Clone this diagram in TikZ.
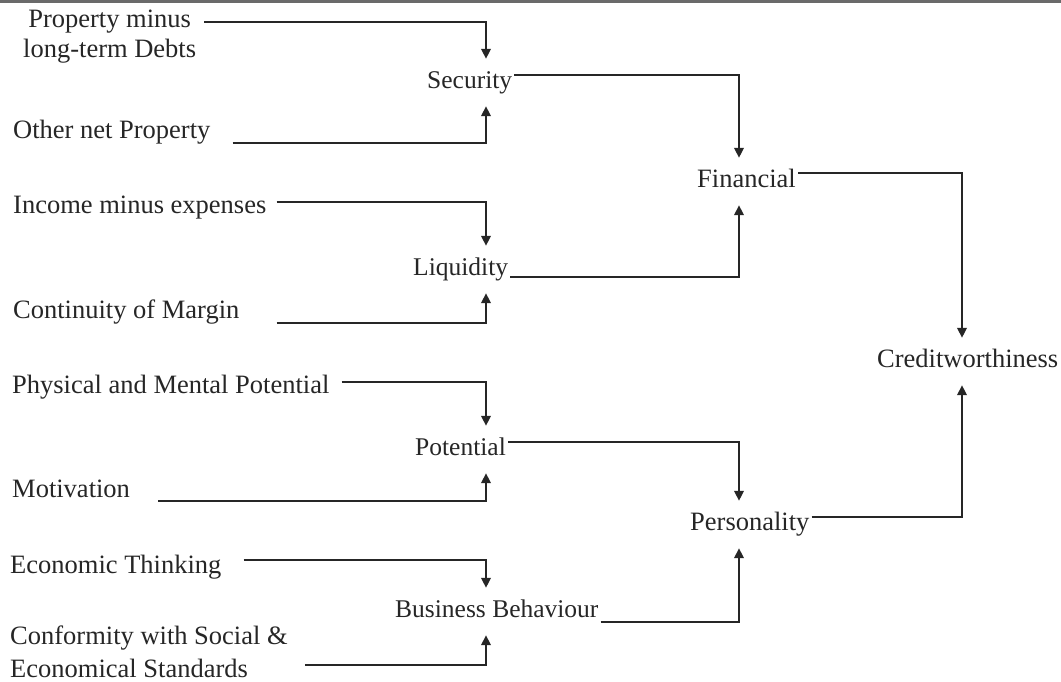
\documentclass[tikz,border=0pt]{standalone}
\usepackage{fontspec}
\setmainfont{Liberation Serif}
\usetikzlibrary{arrows.meta}
\definecolor{ink}{HTML}{262626}
\definecolor{rulegray}{HTML}{6A6A6A}
\begin{document}
\begin{tikzpicture}[x=1pt,y=-1pt,
  every node/.style={text=ink, inner sep=0pt},
  leaf/.style={font=\fontsize{26.5}{30}\selectfont, anchor=base west},
  midnode/.style={font=\fontsize{25.5}{29}\selectfont, anchor=base west,
    text height=29pt, text depth=18pt, inner xsep=2pt},
  topnode/.style={font=\fontsize{26.5}{30}\selectfont, anchor=base west,
    text height=29pt, text depth=18pt, inner xsep=2pt},
  link/.style={draw=ink, line width=1.9pt, -{Triangle[width=9.5pt,length=10pt]}},
  headrule/.style={draw=rulegray, line width=2.6pt},
]
\useasboundingbox (0,0) rectangle (1061,681);

% rule across the top of the figure
\draw[headrule] (0,1.5) -- (1061,1.5);

% columns where the arrows arrive
\coordinate (colA) at (486,0);
\coordinate (colB) at (739,0);
\coordinate (colC) at (962,0);

% indicators
\node[leaf] (pm) at (23,27) {\begin{tabular}[t]{@{}c@{}}Property minus\\long-term Debts\end{tabular}};
\node[leaf] (onp) at (13,138) {Other net Property};
\node[leaf] (ime) at (13,213) {Income minus expenses};
\node[leaf] (com) at (13,318) {Continuity of Margin};
\node[leaf] (pmp) at (12,393) {Physical and Mental Potential};
\node[leaf] (mot) at (12,497) {Motivation};
\node[leaf] (ect) at (10,573) {Economic Thinking};
\node[leaf, font=\fontsize{26.5}{33}\selectfont] (cws) at (10,644)
  {\begin{tabular}[t]{@{}l@{}}Conformity with Social \&\\Economical Standards\end{tabular}};

% first-level criteria
\node[midnode] (sec) at (425,88) {Security};
\node[midnode] (liq) at (411,275) {Liquidity};
\node[midnode] (pot) at (413,455) {Potential};
\node[midnode] (bb) at (393,617) {Business Behaviour};

% second-level criteria and the goal
\node[topnode] (fin) at (695,187) {Financial};
\node[topnode] (per) at (688,530) {Personality};
\node[topnode] (cw) at (875,367) {Creditworthiness};

% indicators into first-level criteria
\draw[link] ([xshift=8pt,yshift=5pt]pm.base east) -| (sec.north -| colA);
\draw[link] ([xshift=22pt,yshift=-5pt]onp.base east) -| (sec.south -| colA);
\draw[link] ([xshift=10pt,yshift=11pt]ime.base east) -| (liq.north -| colA);
\draw[link] ([xshift=37pt,yshift=-5pt]com.base east) -| (liq.south -| colA);
\draw[link] ([xshift=12pt,yshift=11pt]pmp.base east) -| (pot.north -| colA);
\draw[link] ([xshift=28pt,yshift=-4pt]mot.base east) -| (pot.south -| colA);
\draw[link] ([xshift=22pt,yshift=13pt]ect.base east) -| (bb.north -| colA);
\draw[link] ([xshift=17pt,yshift=-21pt]cws.base east) -| (bb.south -| colA);

% first-level into second-level
\draw[link] ([yshift=13pt]sec.base east) -| (fin.north -| colB);
\draw[link] ([yshift=-2pt]liq.base east) -| (fin.south -| colB);
\draw[link] ([yshift=13pt]pot.base east) -| (per.north -| colB);
\draw[link] ([yshift=-5pt]bb.base east) -| (per.south -| colB);

% second-level into the goal
\draw[link] ([yshift=14pt]fin.base east) -| (cw.north -| colC);
\draw[link] ([yshift=13pt]per.base east) -| (cw.south -| colC);
\end{tikzpicture}
\end{document}
